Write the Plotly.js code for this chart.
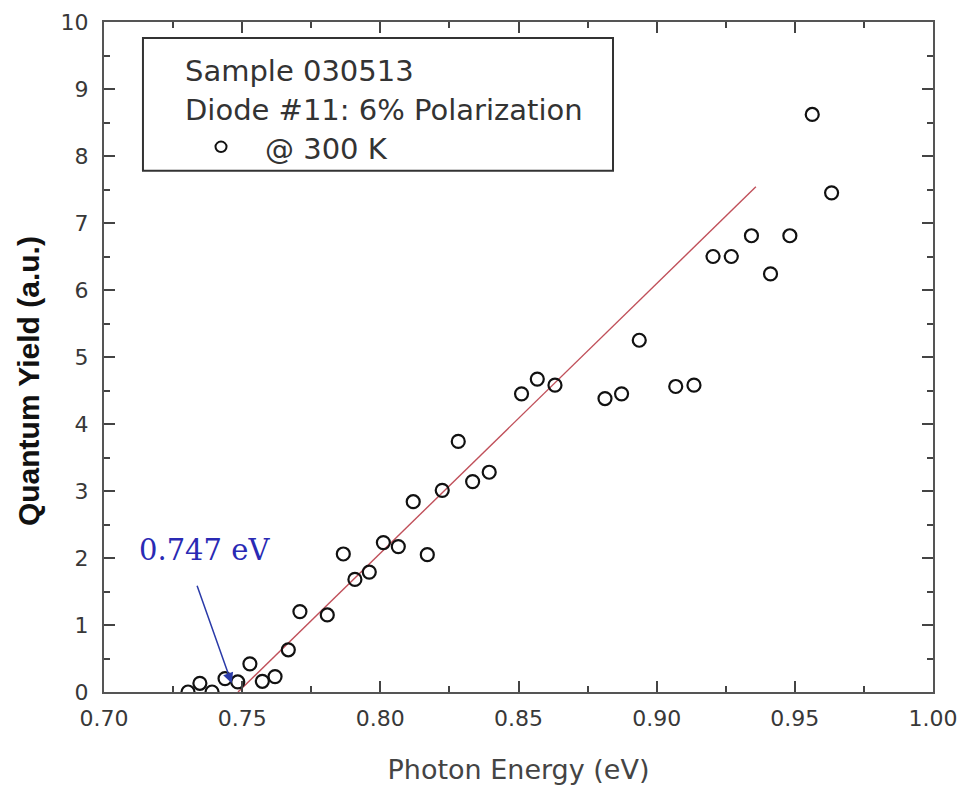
<!DOCTYPE html>
<html>
<head>
<meta charset="utf-8">
<script src="https://cdn.plot.ly/plotly-3.0.1.min.js"></script>
<style>html,body{margin:0;padding:0;background:#fff;}#chart{width:961px;height:786px;}</style>
</head>
<body>
<div id="chart"></div>
<script>
// Photon energy (eV) and quantum yield (a.u.)
const energy = [0.7304, 0.7347, 0.7391, 0.7438, 0.7484, 0.7528, 0.7573, 0.7619, 0.7667, 0.7709,
  0.7808, 0.7866, 0.7908, 0.7960, 0.8011, 0.8065, 0.8119, 0.8170, 0.8224, 0.8282,
  0.8334, 0.8394, 0.8511, 0.8568, 0.8632, 0.8813, 0.8873, 0.8937, 0.9069, 0.9135,
  0.9204, 0.9270, 0.9343, 0.9412, 0.9482, 0.9563, 0.9633];
const yieldAU = [0.0, 0.13, 0.0, 0.20, 0.15, 0.42, 0.16, 0.23, 0.63, 1.20,
  1.15, 2.06, 1.68, 1.79, 2.23, 2.17, 2.84, 2.05, 3.01, 3.74,
  3.14, 3.28, 4.45, 4.67, 4.58, 4.38, 4.45, 5.25, 4.56, 4.58,
  6.50, 6.50, 6.81, 6.24, 6.81, 8.62, 7.45];
// Linear fit line endpoints
const fitX = [0.7485, 0.9359];
const fitY = [0.0, 7.54];
const xTicks = [0.70, 0.75, 0.80, 0.85, 0.90, 0.95, 1.00];
const xTickText = ["0.70", "0.75", "0.80", "0.85", "0.90", "0.95", "1.00"];
const yTicks = [0,1,2,3,4,5,6,7,8,9,10];
const legendLines = ["Sample 030513", "Diode #11: 6% Polarization", "@ 300 K"];
const thresholdLabel = "0.747 eV";
const xTitle = "Photon Energy (eV)";
const yTitle = "Quantum Yield (a.u.)";

const font = "DejaVu Sans, Arial, sans-serif";

const traces = [
  {x: fitX, y: fitY, mode: 'lines', line: {color: '#c0505a', width: 1.4}, showlegend: false, hoverinfo: 'skip'},
  {x: energy, y: yieldAU, mode: 'markers', cliponaxis: true,
   marker: {symbol: 'circle-open', size: 13, color: '#111', line: {width: 2.2, color: '#111'}},
   showlegend: false}
];

const axisCommon = {
  showgrid: false, zeroline: false, showline: true, linecolor: '#555', linewidth: 2,
  mirror: 'allticks', ticks: 'inside', ticklen: 11, tickwidth: 2, tickcolor: '#444'
};

const layout = {
  width: 961, height: 786,
  margin: {l: 104, r: 28, t: 22, b: 94},
  paper_bgcolor: '#fff', plot_bgcolor: '#fff',
  xaxis: Object.assign({}, axisCommon, {
    range: [0.70, 1.00], tickvals: xTicks, ticktext: xTickText, ticklabelstandoff: 6,
    tickfont: {family: font, size: 22, color: '#383838'},
    minor: {dtick: 0.025, tick0: 0.70, ticks: 'inside', ticklen: 6, tickwidth: 2, tickcolor: '#444'},
    title: {text: xTitle, font: {family: font, size: 27, color: '#444'}, standoff: 30}
  }),
  yaxis: Object.assign({}, axisCommon, {
    range: [0, 10], tickvals: yTicks, ticklabelstandoff: 9,
    tickfont: {family: font, size: 22, color: '#383838'},
    minor: {dtick: 0.5, tick0: 0, ticks: 'inside', ticklen: 6, tickwidth: 2, tickcolor: '#444'}
  }),
  shapes: [
    {type: 'rect', xref: 'paper', yref: 'paper', x0: 0.047, x1: 0.614, y0: 0.778, y1: 0.976,
     line: {color: '#333', width: 2}, fillcolor: '#fff', layer: 'above'},
    {type: 'circle', xref: 'paper', yref: 'paper', x0: 0.1345, x1: 0.1478, y0: 0.806, y1: 0.8215,
     line: {color: '#111', width: 2}, layer: 'above'}
  ],
  annotations: [
    {xref: 'paper', yref: 'paper', x: -0.0917, y: 0.464, textangle: -90, showarrow: false,
     xanchor: 'center', yanchor: 'middle', text: '<b>' + yTitle + '</b>',
     font: {family: 'Liberation Sans, Arial, sans-serif', size: 30, color: '#111'}},
    {xref: 'paper', yref: 'paper', x: 0.095, y: 0.927, xanchor: 'left', yanchor: 'middle', showarrow: false,
     text: legendLines[0], font: {family: font, size: 29, color: '#333'}},
    {xref: 'paper', yref: 'paper', x: 0.095, y: 0.869, xanchor: 'left', yanchor: 'middle', showarrow: false,
     text: legendLines[1], font: {family: font, size: 29, color: '#333'}},
    {xref: 'paper', yref: 'paper', x: 0.192, y: 0.810, xanchor: 'left', yanchor: 'middle', showarrow: false,
     text: legendLines[2], font: {family: font, size: 29, color: '#333'}},
    {x: 0.7462, y: 0.13, xref: 'x', yref: 'y', ax: 0.7335, ay: 1.61, axref: 'x', ayref: 'y',
     showarrow: true, arrowhead: 2, arrowsize: 1.4, arrowwidth: 1.5, arrowcolor: '#2a3aa8', text: ''},
    {x: 0.7362, y: 2.12, xref: 'x', yref: 'y', showarrow: false, text: thresholdLabel,
     font: {family: 'DejaVu Serif, Times New Roman, serif', size: 29, color: '#2a2ab4'}}
  ]
};

Plotly.newPlot('chart', traces, layout, {displayModeBar: false, staticPlot: true});
</script>
</body>
</html>
